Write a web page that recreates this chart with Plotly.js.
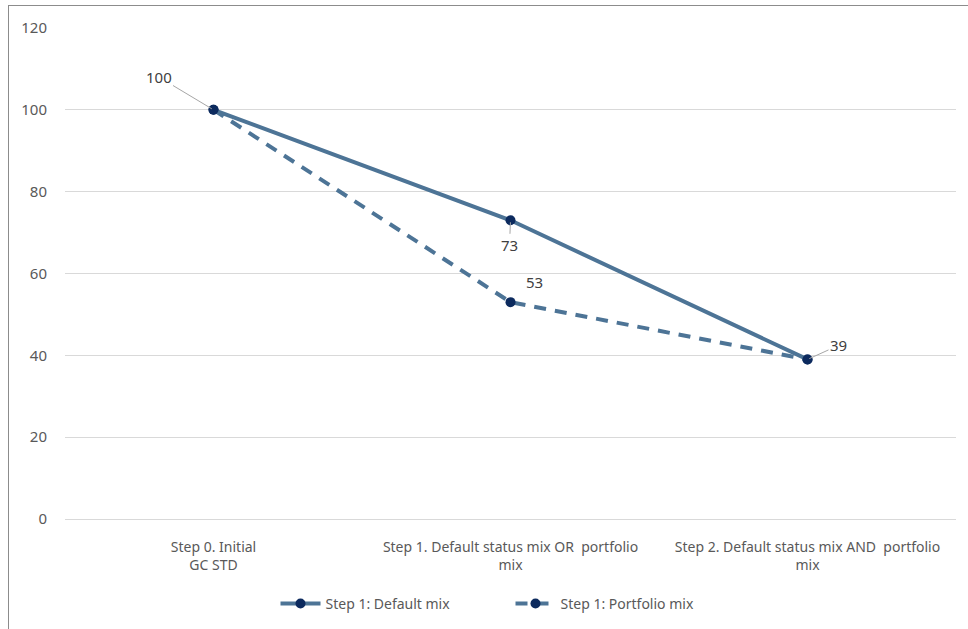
<!DOCTYPE html>
<html>
<head>
<meta charset="utf-8">
<script src="https://cdn.plot.ly/plotly-3.0.1.min.js"></script>
<style>
  html, body { margin: 0; padding: 0; background: #ffffff; }
  #wrap { position: relative; width: 968px; height: 629px; overflow: hidden; }
  #chart { position: absolute; left: 0; top: 0; width: 968px; height: 629px; }
  #frame { position: absolute; left: 8px; top: 5px; width: 980px; height: 640px;
           border-left: 1px solid #8c8c8c; border-top: 1px solid #8c8c8c; pointer-events: none; }
</style>
</head>
<body>
<div id="wrap">
  <div id="chart"></div>
  <div id="frame"></div>
</div>
<script>
// ---- data ----
const categories = [0, 1, 2];
const tickLabels = [
  "Step 0. Initial<br>GC STD",
  "Step 1. Default status mix OR  portfolio<br>mix",
  "Step 2. Default status mix AND  portfolio<br>mix"
];
const defaultMix = [100, 73, 39];
const portfolioMix = [100, 53, 39];
const seriesNames = ["Step 1: Default mix", "Step 1: Portfolio mix"];
const yTicks = [0, 20, 40, 60, 80, 100, 120];

// label placement (pixel offsets from point) for data labels
const labelDefs = [
  { series: defaultMix, idx: 0, ax: -55, ay: -33, arrow: true },
  { series: defaultMix, idx: 1, ax: -1, ay: 25, arrow: true },
  { series: portfolioMix, idx: 1, ax: 24, ay: -20, arrow: false },
  { series: defaultMix, idx: 2, ax: 31, ay: -14, arrow: true }
];

const lineColor = "#4d7496";
const markerColor = "#0c2a5e";
const font = "Noto Sans, Open Sans, sans-serif";

const traces = [
  {
    x: categories, y: defaultMix, name: seriesNames[0], type: "scatter", mode: "lines+markers",
    line: { color: lineColor, width: 4 },
    marker: { color: markerColor, size: 10 }
  },
  {
    x: categories, y: portfolioMix, name: seriesNames[1], type: "scatter", mode: "lines+markers",
    line: { color: lineColor, width: 4, dash: "12px,9px" },
    marker: { color: markerColor, size: 10 }
  }
];

const annotations = labelDefs.map(d => ({
  x: categories[d.idx], y: d.series[d.idx], xref: "x", yref: "y",
  text: String(d.series[d.idx]),
  showarrow: d.arrow,
  arrowhead: 0, arrowwidth: 1, arrowcolor: "#a6a6a6",
  ax: d.ax, ay: d.ay,
  xshift: d.arrow ? 0 : d.ax, yshift: d.arrow ? 0 : -d.ay,
  standoff: 2,
  font: { family: font, size: 15, color: "#404040" }
}));

const layout = {
  width: 968, height: 629,
  margin: { l: 65, r: 12, t: 28, b: 110, autoexpand: false },
  paper_bgcolor: "#ffffff", plot_bgcolor: "#ffffff",
  showlegend: true,
  legend: {
    orientation: "h", x: 0.5, xanchor: "center", y: -0.173, yanchor: "middle",
    font: { family: font, size: 14, color: "#595959" },
    itemwidth: 40, entrywidth: 180, entrywidthmode: "pixels"
  },
  xaxis: {
    range: [-0.5, 2.5],
    tickmode: "array", tickvals: categories, ticktext: tickLabels,
    showgrid: false, zeroline: false, showline: false,
    ticks: "outside", ticklen: 15, tickcolor: "rgba(0,0,0,0)",
    tickfont: { family: font, size: 14, color: "#595959" },
    fixedrange: true, automargin: false
  },
  yaxis: {
    range: [0, 120],
    tickmode: "array", tickvals: yTicks,
    showgrid: true, gridcolor: "#d9d9d9", gridwidth: 1,
    zeroline: true, zerolinecolor: "#d9d9d9", zerolinewidth: 1,
    showline: false, ticks: "outside", ticklen: 14, tickcolor: "rgba(0,0,0,0)",
    tickfont: { family: font, size: 15, color: "#595959" },
    fixedrange: true, automargin: false
  },
  annotations: annotations
};

Plotly.newPlot("chart", traces, layout, { displayModeBar: false, staticPlot: true });
</script>
</body>
</html>
